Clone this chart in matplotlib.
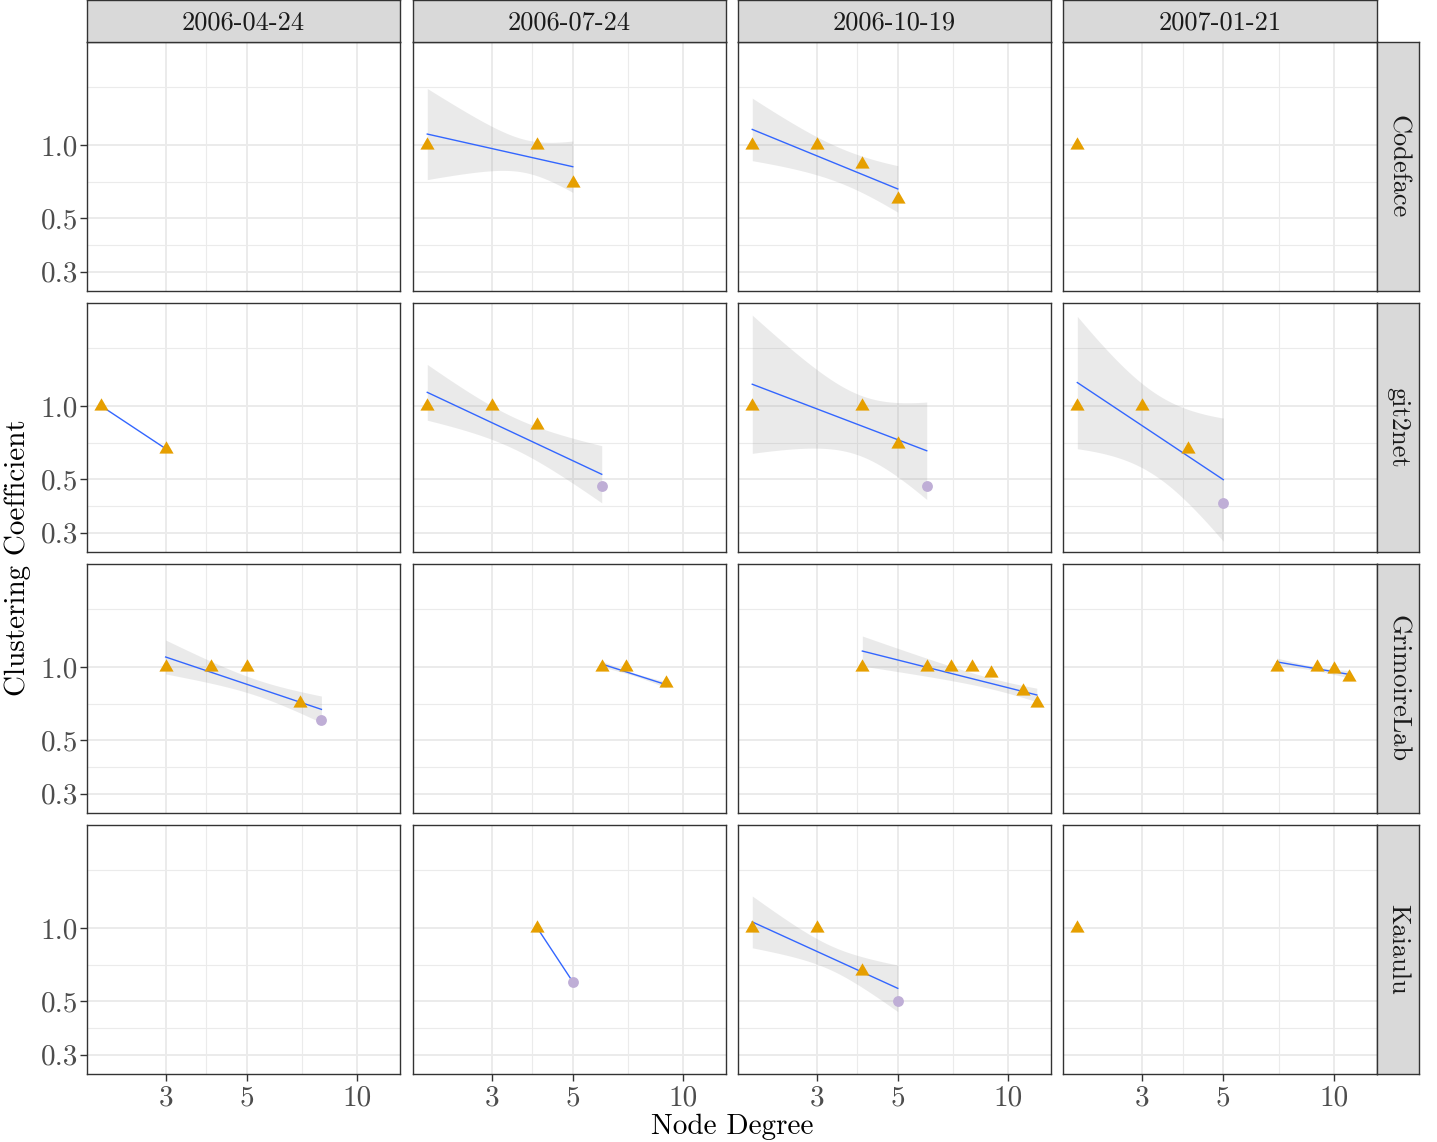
import numpy as np
import matplotlib
matplotlib.use("Agg")
import matplotlib.pyplot as plt
from matplotlib.ticker import FixedLocator, NullFormatter

plt.rcParams["font.family"] = ["cmr10", "DejaVu Serif"]
plt.rcParams["mathtext.fontset"] = "cm"
plt.rcParams["axes.formatter.use_mathtext"] = True
plt.rcParams["axes.unicode_minus"] = False

W, H = 1437, 1142

PROJECTS = ["Codeface", "git2net", "GrimoireLab", "Kaiaulu"]
DATES = ["2006-04-24", "2006-07-24", "2006-10-19", "2007-01-21"]

# one row per node group: project, date, degree, clustering coefficient, kind
PT_PROJECT = ["Codeface"] * 8 + ["git2net"] * 14 + ["GrimoireLab"] * 19 + ["Kaiaulu"] * 7
PT_DATE = (
    ["2006-07-24"] * 3 + ["2006-10-19"] * 4 + ["2007-01-21"]
    + ["2006-04-24"] * 2 + ["2006-07-24"] * 4 + ["2006-10-19"] * 4 + ["2007-01-21"] * 4
    + ["2006-04-24"] * 5 + ["2006-07-24"] * 3 + ["2006-10-19"] * 7 + ["2007-01-21"] * 4
    + ["2006-07-24"] * 2 + ["2006-10-19"] * 4 + ["2007-01-21"]
)
PT_DEGREE = [
    2, 4, 5, 2, 3, 4, 5, 2,
    2, 3, 2, 3, 4, 6, 2, 4, 5, 6, 2, 3, 4, 5,
    3, 4, 5, 7, 8, 6, 7, 9, 4, 6, 7, 8, 9, 11, 12, 7, 9, 10, 11,
    4, 5, 2, 3, 4, 5, 2,
]
PT_CC = [
    1.0, 1.0, 0.70, 1.0, 1.0, 0.833, 0.60, 1.0,
    1.0, 0.667, 1.0, 1.0, 0.833, 0.467, 1.0, 1.0, 0.70, 0.467, 1.0, 1.0, 0.667, 0.40,
    1.0, 1.0, 1.0, 0.714, 0.607, 1.0, 1.0, 0.861, 1.0, 1.0, 1.0, 1.0, 0.944, 0.80, 0.712,
    1.0, 1.0, 0.978, 0.909,
    1.0, 0.60, 1.0, 1.0, 0.667, 0.50, 1.0,
]
PT_KIND = [
    "t", "t", "t", "t", "t", "t", "t", "t",
    "t", "t", "t", "t", "t", "c", "t", "t", "t", "c", "t", "t", "t", "c",
    "t", "t", "t", "t", "c", "t", "t", "t", "t", "t", "t", "t", "t", "t", "t",
    "t", "t", "t", "t",
    "t", "c", "t", "t", "t", "c", "t",
]

# linear fits (log-log): span, fitted value at
# both ends, and confidence band half-width (log10) at left / narrowest / right
SM_PROJECT = ["Codeface", "Codeface", "git2net", "git2net", "git2net", "git2net",
              "GrimoireLab", "GrimoireLab", "GrimoireLab", "GrimoireLab", "Kaiaulu", "Kaiaulu"]
SM_DATE = ["2006-07-24", "2006-10-19", "2006-04-24", "2006-07-24", "2006-10-19", "2007-01-21",
           "2006-04-24", "2006-07-24", "2006-10-19", "2007-01-21", "2006-07-24", "2006-10-19"]
SM_X0 = [2, 2, 2, 2, 2, 2, 3, 6, 4, 7, 4, 2]
SM_X1 = [5, 5, 3, 6, 6, 5, 8, 9, 12, 11, 5, 5]
SM_Y0 = [1.11, 1.16, 1.0, 1.139, 1.23, 1.25, 1.10, 1.029, 1.164, 1.05, 1.0, 1.06]
SM_Y1 = [0.814, 0.659, 0.667, 0.523, 0.654, 0.497, 0.669, 0.846, 0.767, 0.933, 0.60, 0.564]
SM_H_LEFT = [0.188, 0.129, 0.0, 0.115, 0.285, 0.273, 0.070, 0.012, 0.062, 0.016, 0.0, 0.107]
SM_H_MIN = [0.068, 0.072, 0.0, 0.065, 0.125, 0.170, 0.033, 0.006, 0.022, 0.008, 0.0, 0.050]
SM_H_RIGHT = [0.106, 0.096, 0.0, 0.118, 0.201, 0.254, 0.055, 0.012, 0.028, 0.015, 0.0, 0.096]

X_TICKS = [3, 5, 10]
Y_TICKS = [0.3, 0.5, 1.0]
Y_TICK_LABELS = ["0.3", "0.5", "1.0"]

ORANGE = "#E69F00"
LAVENDER = "#BFAED6"
BLUE = "#3366FF"
GRID = "#EBEBEB"
BORDER = "#333333"
STRIP = "#D9D9D9"

COL_LEFT = [87, 413, 738, 1063]
ROW_TOP = [42, 303, 564, 825]
PANEL_W, PANEL_H = 313, 249
STRIP_SIZE = 42
FS_STRIP = 19
FS = 21

# equilateral triangle, centred like R's pch 17
TRIANGLE = [(0, 1), (-0.866, -0.5), (0.866, -0.5)]


def px_axes(fig, x, y, w, h):
    return fig.add_axes([x / W, 1 - (y + h) / H, w / W, h / H])


def band_halfwidth(lx, lx0, lx1, h_left, h_min, h_right):
    c0 = h_min ** 2
    a = np.sqrt(max(h_left ** 2 - c0, 0))
    b = np.sqrt(max(h_right ** 2 - c0, 0))
    k = (a + b) / (lx1 - lx0)
    if k == 0:
        return np.full_like(lx, h_min)
    centre = lx0 + a / k
    return np.sqrt(c0 + (k * (lx - centre)) ** 2)


def draw_smooth(ax, i):
    lx0, lx1 = np.log10(SM_X0[i]), np.log10(SM_X1[i])
    ly0, ly1 = np.log10(SM_Y0[i]), np.log10(SM_Y1[i])
    lx = np.linspace(lx0, lx1, 80)
    ly = ly0 + (ly1 - ly0) * (lx - lx0) / (lx1 - lx0)
    if SM_H_LEFT[i] > 0:
        hw = band_halfwidth(lx, lx0, lx1, SM_H_LEFT[i], SM_H_MIN[i], SM_H_RIGHT[i])
        ax.fill_between(10 ** lx, 10 ** (ly - hw), 10 ** (ly + hw),
                        color="#999999", alpha=0.2, linewidth=0, zorder=2)
    ax.plot(10 ** lx, 10 ** ly, color=BLUE, linewidth=1.0, zorder=3)


fig = plt.figure(figsize=(W / 100, H / 100), dpi=100)
fig.patch.set_facecolor("white")

for r, project in enumerate(PROJECTS):
    for c, date in enumerate(DATES):
        ax = px_axes(fig, COL_LEFT[c], ROW_TOP[r], PANEL_W + (1 if c == 3 else 0), PANEL_H)
        ax.set_xscale("log")
        ax.set_yscale("log")
        ax.set_xlim(10 ** 0.262, 10 ** 1.118)
        ax.set_ylim(10 ** -0.602, 10 ** 0.425)

        ax.xaxis.set_major_locator(FixedLocator(X_TICKS))
        ax.xaxis.set_minor_locator(FixedLocator([np.sqrt(15), np.sqrt(50)]))
        ax.yaxis.set_major_locator(FixedLocator(Y_TICKS))
        ax.yaxis.set_minor_locator(FixedLocator([np.sqrt(0.15), np.sqrt(0.5), np.sqrt(3)]))
        ax.xaxis.set_minor_formatter(NullFormatter())
        ax.yaxis.set_minor_formatter(NullFormatter())
        ax.set_xticklabels([str(t) for t in X_TICKS])
        ax.set_yticklabels(Y_TICK_LABELS)

        ax.grid(which="major", color=GRID, linewidth=1.4, zorder=0)
        ax.grid(which="minor", color=GRID, linewidth=0.8, zorder=0)
        ax.set_axisbelow(True)
        for sp in ax.spines.values():
            sp.set_color(BORDER)
            sp.set_linewidth(1.0)
            sp.set_zorder(5)

        ax.tick_params(which="minor", length=0)
        ax.tick_params(which="major", color=BORDER, width=1.0, length=5,
                       labelsize=FS, labelcolor="#4D4D4D")
        ax.tick_params(axis="y", pad=1.5)
        ax.tick_params(axis="x", pad=3)
        if c != 0:
            ax.tick_params(axis="y", length=0, labelleft=False)
        if r != len(PROJECTS) - 1:
            ax.tick_params(axis="x", length=0, labelbottom=False)

        for i in range(len(SM_PROJECT)):
            if SM_PROJECT[i] == project and SM_DATE[i] == date:
                draw_smooth(ax, i)

        idx = [i for i in range(len(PT_PROJECT)) if PT_PROJECT[i] == project and PT_DATE[i] == date]
        tri = [i for i in idx if PT_KIND[i] == "t"]
        cir = [i for i in idx if PT_KIND[i] == "c"]
        if cir:
            ax.plot([PT_DEGREE[i] for i in cir], [PT_CC[i] for i in cir], linestyle="none",
                    marker="o", markersize=7.8, color=LAVENDER, markeredgewidth=0, zorder=4)
        if tri:
            ax.plot([PT_DEGREE[i] for i in tri], [PT_CC[i] for i in tri], linestyle="none",
                    marker=TRIANGLE, markersize=11.8, color=ORANGE, markeredgewidth=0, zorder=4)

# facet strips
for c, date in enumerate(DATES):
    sax = px_axes(fig, COL_LEFT[c], 0, PANEL_W + (1 if c == 3 else 0), STRIP_SIZE)
    sax.set_facecolor(STRIP)
    sax.set_xticks([])
    sax.set_yticks([])
    for sp in sax.spines.values():
        sp.set_color(BORDER)
        sp.set_linewidth(1.0)
    sax.text(0.5, 0.47, date, transform=sax.transAxes, ha="center", va="center",
             fontsize=FS_STRIP, color="#1A1A1A")

for r, project in enumerate(PROJECTS):
    sax = px_axes(fig, 1377, ROW_TOP[r], STRIP_SIZE, PANEL_H)
    sax.set_facecolor(STRIP)
    sax.set_xticks([])
    sax.set_yticks([])
    for sp in sax.spines.values():
        sp.set_color(BORDER)
        sp.set_linewidth(1.0)
    sax.text(0.5, 0.5, project, transform=sax.transAxes, ha="center", va="center",
             rotation=-90, fontsize=FS_STRIP, color="#1A1A1A")

fig.text(732 / W, 1 - 1127 / H, "Node Degree", ha="center", va="center", fontsize=FS, color="black")
fig.text(18 / W, 1 - 558 / H, "Clustering Coefficient", ha="center", va="center",
         rotation=90, fontsize=FS, color="black")

fig.savefig("out.png", dpi=100, facecolor="white")
